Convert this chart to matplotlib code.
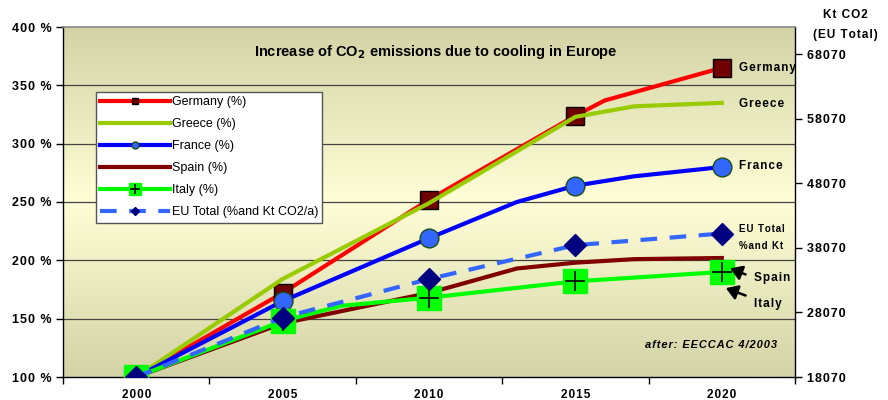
import numpy as np
import matplotlib
matplotlib.use("Agg")
import matplotlib.pyplot as plt
from matplotlib.lines import Line2D
from matplotlib.legend_handler import HandlerTuple
from matplotlib.colors import LinearSegmentedColormap

plt.rcParams['font.family'] = ['Liberation Sans', 'DejaVu Sans']

# values (% of 2000 level)
germany_years = [2000, 2005, 2010, 2015, 2016, 2020]
germany_pct = [100, 172, 252, 324, 337, 365]

greece_years = [2000, 2005, 2010, 2015, 2017, 2020]
greece_pct = [100, 184, 249, 323, 332, 335]

france_years = [2000, 2005, 2010, 2013, 2015, 2017, 2020]
france_pct = [100, 165, 219, 250, 264, 272, 280]

spain_years = [2000, 2005, 2010, 2013, 2015, 2017, 2020]
spain_pct = [100, 146, 172, 193, 198, 201, 202]

italy_years = [2000, 2005, 2007, 2010, 2015, 2020]
italy_pct = [100, 148, 161, 168, 182, 190]

eu_years = [2000, 2005, 2010, 2015, 2020]
eu_pct = [100, 151, 184, 213, 223]

eu_base_kt = 18070
year_ticks = [2000, 2005, 2010, 2015, 2020]
pct_ticks = [100, 150, 200, 250, 300, 350, 400]
kt_ticks = [18070, 28070, 38070, 48070, 58070, 68070]


def five_year_idx(years):
    return [i for i, y in enumerate(years) if y in year_ticks]


def spaced(s):
    # the original uses wide letter spacing on axis texts
    return '\u200a'.join(s)


fig = plt.figure(figsize=(8.88, 4.0), dpi=100)
ax = fig.add_axes([63/888, 23/400, 732/888, 350/400])

# background gradient: olive at the edges, pale yellow in the middle
cmap = LinearSegmentedColormap.from_list('bg', ['#d3d3a6', '#fffed6', '#d3d3a6'])
grad = np.linspace(0, 1, 256).reshape(-1, 1)
ax.imshow(grad, cmap=cmap, aspect='auto', extent=[0, 1, 0, 1],
          transform=ax.transAxes, zorder=0)

ax.set_xlim(1997.5, 2022.5)
ax.set_ylim(100, 400)

for p in pct_ticks[1:-1]:
    ax.axhline(p, color='#444444', lw=0.9, zorder=1)

lw = 3
ax.plot(germany_years, germany_pct, color='#ff0000', lw=lw, zorder=3,
        marker='s', ms=13, mfc='#700000', mec='black', mew=1,
        markevery=five_year_idx(germany_years))
ax.plot(greece_years, greece_pct, color='#99cc00', lw=lw, zorder=4)
ax.plot(france_years, france_pct, color='#0000ff', lw=lw, zorder=5,
        marker='o', ms=13.5, mfc='#3366ff', mec='#1a4d1a', mew=1,
        markevery=five_year_idx(france_years))
ax.plot(spain_years, spain_pct, color='#800000', lw=lw, zorder=6)
ax.plot(italy_years, italy_pct, color='#00ff00', lw=lw, zorder=7,
        marker='s', ms=17, mfc='#00ff00', mec='#00ff00',
        markevery=five_year_idx(italy_years))
ax.plot([italy_years[i] for i in five_year_idx(italy_years)],
        [italy_pct[i] for i in five_year_idx(italy_years)],
        ls='none', marker='+', ms=15, mew=1.2, color='black', zorder=7.5)
ax.plot(eu_years, eu_pct, color='#3366ff', lw=lw, ls=(0, (4, 3)), zorder=8,
        marker='D', ms=11.5, mfc='#000080', mec='#000080',
        markevery=five_year_idx(eu_years))

ax.set_xticks(year_ticks)
ax.set_xticklabels([spaced(str(y)) for y in year_ticks], fontweight='bold', fontsize=8.5)
ax.set_xticks(np.arange(1997.5, 2023, 5), minor=True)
ax.tick_params(axis='x', which='major', length=0, pad=9)
ax.tick_params(axis='x', which='minor', length=5, direction='out', width=1)
ax.set_yticks(pct_ticks)
ax.set_yticklabels([spaced(f'{p} %') for p in pct_ticks], fontweight='bold', fontsize=9)
ax.tick_params(axis='y', length=5, direction='out', width=1, pad=3)

for s in ['left', 'bottom', 'right']:
    ax.spines[s].set_color('black')
    ax.spines[s].set_linewidth(1)
ax.spines['top'].set_color('#888888')
ax.spines['top'].set_linewidth(1.2)

ax2 = ax.twinx()
ax2.set_ylim(eu_base_kt, eu_base_kt * 4)
ax2.set_yticks(kt_ticks)
ax2.set_yticklabels([spaced(str(k)) for k in kt_ticks], fontweight='bold', fontsize=9)
ax2.tick_params(axis='y', length=5, direction='out', width=1, pad=4)
for s in ax2.spines.values():
    s.set_visible(False)

ax.text(0.51, 0.955, 'Increase of CO$_\\mathbf{2}$ emissions due to cooling in Europe',
        transform=ax.transAxes, ha='center', va='top', fontsize=10.5,
        fontweight='bold', zorder=10)
ax.text(0.975, 0.09, spaced('after: EECCAC 4/2003'), transform=ax.transAxes,
        ha='right', va='center', fontsize=8, fontweight='bold',
        style='italic', zorder=10)

# series labels on the right
lab = dict(fontweight='bold', fontsize=8.5, va='center', ha='left', zorder=12, clip_on=False)
ax.text(2020.6, 365, spaced('Germany'), **lab)
ax.text(2020.6, 334, spaced('Greece'), **lab)
ax.text(2020.6, 281, spaced('France'), **lab)
ax.text(2020.6, 227, spaced('EU Total'), fontweight='bold', fontsize=7, va='center', ha='left', zorder=12)
ax.text(2020.6, 212, spaced('%and Kt'), fontweight='bold', fontsize=7, va='center', ha='left', zorder=12)
ax.text(2021.1, 185, spaced('Spain'), **lab)
ax.text(2021.1, 163, spaced('Italy'), **lab)
arr = dict(arrowstyle='-|>,head_width=0.45,head_length=0.7', color='black', lw=1.8)
ax.annotate('', xy=(2020.2, 194), xytext=(2020.9, 187), arrowprops=arr, zorder=12)
ax.annotate('', xy=(2020.05, 177), xytext=(2020.9, 169), arrowprops=arr, zorder=12)

# right axis caption
fig.text(845/888, 1 - 15/400, spaced('Kt CO2'), ha='center', va='center',
         fontweight='bold', fontsize=8.5)
fig.text(845/888, 1 - 35/400, spaced('(EU Total)'), ha='center', va='center',
         fontweight='bold', fontsize=8.5)

# legend
h_ger = Line2D([], [], color='#ff0000', lw=lw, marker='s', ms=5, mfc='#700000', mec='black')
h_gre = Line2D([], [], color='#99cc00', lw=lw)
h_fra = Line2D([], [], color='#0000ff', lw=lw, marker='o', ms=5, mfc='#3366ff', mec='#1a4d1a')
h_spa = Line2D([], [], color='#800000', lw=lw)
h_ita = (Line2D([], [], color='#00ff00', lw=lw, marker='s', ms=8, mfc='#00ff00', mec='#00ff00'),
         Line2D([], [], ls='none', marker='+', ms=7, mew=1.2, color='black'))
h_eu = Line2D([], [], color='#3366ff', lw=lw, ls=(0, (4, 3)), marker='D', ms=4,
              mfc='#000080', mec='#000080')
leg = ax.legend([h_ger, h_gre, h_fra, h_spa, h_ita, h_eu],
                ['Germany (%)', 'Greece (%)', 'France (%)', 'Spain (%)',
                 'Italy (%)', 'EU Total (%and Kt CO2/a)'],
                handler_map={tuple: HandlerTuple(ndivide=1, pad=0)},
                loc='upper left', bbox_to_anchor=(96/888, 1 - 92/400),
                bbox_transform=fig.transFigure, fontsize=9, frameon=True,
                fancybox=False, framealpha=1, edgecolor='#555555',
                handlelength=5.6, handletextpad=0.1, labelspacing=0.8,
                borderpad=0.35, borderaxespad=0)
leg.get_frame().set_linewidth(1)
leg.set_zorder(20)

fig.savefig('out.png', dpi=100)
